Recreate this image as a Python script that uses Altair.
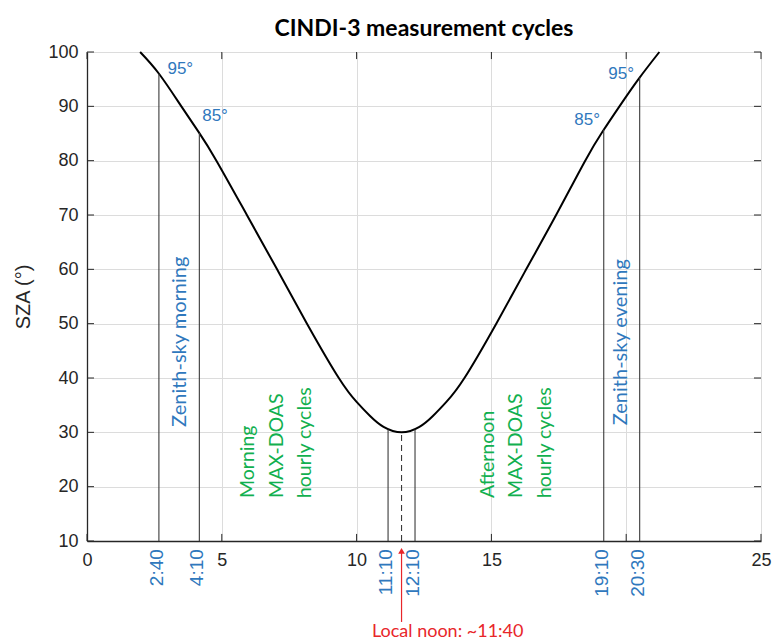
import altair as alt
import pandas as pd

# ---- data ----
curve_hours = [1.97, 2.67, 3.50, 4.15, 4.80, 5.93, 7.05, 8.16, 9.34, 10.0, 10.5,
               11.0, 11.67, 12.33, 12.83, 13.33, 14.0, 15.18, 16.29, 17.40, 18.48,
               19.13, 19.75, 20.47, 21.23]
curve_sza = [100, 96.0, 90, 85.2, 80, 70, 60, 50, 40, 35.6, 33.0,
             31.0, 30.0, 31.0, 33.0, 35.6, 40, 50, 60, 70, 80,
             85.4, 90, 95.1, 100]

cycle_hours = [2.667, 4.167, 11.167, 12.167, 19.167, 20.5]
cycle_labels = ["2:40", "4:10", "11:10", "12:10", "19:10", "20:30"]
cycle_tops = [96.0, 85.1, 30.5, 30.5, 85.7, 95.3]

noon_hour = 11.667
noon_sza = 30.0
noon_label = "Local noon: ~11:40"

sza_marks = ["95°", "85°", "85°", "95°"]
sza_mark_hours = [3.46, 4.75, 18.55, 19.81]
sza_mark_pos = [96.8, 88.3, 87.4, 96.0]

zenith_texts = ["Zenith-sky morning", "Zenith-sky evening"]
zenith_hours = [3.46, 19.81]
zenith_start = [31.0, 31.3]

maxdoas_texts = ["Morning", "MAX-DOAS", "hourly cycles",
                 "Afternoon", "MAX-DOAS", "hourly cycles"]
maxdoas_hours = [5.99, 7.04, 8.09, 14.87, 15.93, 16.97]
maxdoas_start = [17.9] * 6

x_ticks = [0, 5, 10, 15, 20, 25]
y_ticks = [10, 20, 30, 40, 50, 60, 70, 80, 90, 100]

BLUE = "#2f78bd"
GREEN = "#12b04f"
RED = "#e8262a"
DARK = "#262626"

xs = alt.Scale(domain=[0, 25], nice=False, zero=False)
ys = alt.Scale(domain=[10, 100], nice=False, zero=False)

AX_X = alt.Axis(values=x_ticks, labelExpr="datum.value == 20 ? '' : datum.label",
                grid=True, ticks=False, labelFontSize=18, labelFont="Liberation Sans",
                labelColor=DARK, labelPadding=10, domainColor=DARK, domainWidth=1.3,
                gridColor="#dcdcdc", labelFlush=False, title=None)
AX_Y = alt.Axis(values=y_ticks, grid=True, ticks=False, labelFontSize=18,
                labelFont="Liberation Sans", labelColor=DARK, labelPadding=9,
                domainColor=DARK, domainWidth=1.3, gridColor="#dcdcdc",
                title="SZA (°)", titleFont="Liberation Sans", titleFontSize=20,
                titleFontWeight="normal", titleColor=DARK, titleX=-64, titleY=244.5,
                titleAngle=-90, titleBaseline="middle", titleAlign="center",
                labelFlush=False)


def X(field):
    return alt.X(field, scale=xs, axis=AX_X, title=None)


def Y(field):
    return alt.Y(field, scale=ys, axis=AX_Y, title="SZA (°)")


def XD(v):
    return alt.XDatum(v, scale=xs, axis=AX_X, title=None, type="quantitative")


def YD(v):
    return alt.YDatum(v, scale=ys, axis=AX_Y, title="SZA (°)", type="quantitative")


# ---- layers ----
curve_df = pd.DataFrame({"t": curve_hours, "sza": curve_sza})
curve = alt.Chart(curve_df).mark_line(color="black", strokeWidth=2,
                                      interpolate="natural").encode(
    x=X("t:Q"), y=Y("sza:Q"))

# inward ticks (MATLAB style)
yt_df = pd.DataFrame({"v": y_ticks})
left_ticks = alt.Chart(yt_df).mark_rule(color=DARK, strokeWidth=1).encode(
    y=Y("v:Q"), x=XD(0), x2=alt.datum(0.26))
right_ticks = alt.Chart(yt_df).mark_rule(color=DARK, strokeWidth=1).encode(
    y=Y("v:Q"), x=XD(25), x2=alt.datum(24.74))
xt_df = pd.DataFrame({"v": x_ticks})
bottom_ticks = alt.Chart(xt_df).mark_rule(color=DARK, strokeWidth=1).encode(
    x=X("v:Q"), y=YD(10), y2=alt.datum(11.3))
top_ticks = alt.Chart(xt_df).mark_rule(color=DARK, strokeWidth=1).encode(
    x=X("v:Q"), y=YD(100), y2=alt.datum(98.7))

cyc_df = pd.DataFrame({"t": cycle_hours, "top": cycle_tops, "lab": cycle_labels,
                       "base": [10] * len(cycle_hours)})
cycle_lines = alt.Chart(cyc_df).mark_rule(color="#3a3a3a", strokeWidth=1.1).encode(
    x=X("t:Q"), y=Y("base:Q"), y2="top:Q")
cycle_text = alt.Chart(cyc_df).mark_text(
    angle=270, align="right", baseline="middle", color=BLUE, fontSize=19,
    font="Liberation Sans", dy=-2).encode(
    x=X("t:Q"), y=YD(8.5), text="lab:N")

noon_df = pd.DataFrame({"t": [noon_hour], "top": [noon_sza], "base": [10],
                        "lab": [noon_label]})
noon_line = alt.Chart(noon_df).mark_rule(color="#3a3a3a", strokeWidth=1.1,
                                         strokeDash=[6, 4]).encode(
    x=X("t:Q"), y=Y("base:Q"), y2="top:Q")
arrow_line = alt.Chart(noon_df).mark_rule(color=RED, strokeWidth=1.2).encode(
    x=X("t:Q"), y=YD(-4.9), y2=alt.datum(8.0))
arrow_head = alt.Chart(noon_df).mark_point(shape="triangle-up", filled=True, color=RED,
                                            size=45, opacity=1).encode(
    x=X("t:Q"), y=YD(8.2))
noon_text = alt.Chart(noon_df).mark_text(align="left", baseline="middle", color=RED,
                                         fontSize=18, font="Lato").encode(
    x=XD(10.57), y=YD(-6.7), text="lab:N")

sm_df = pd.DataFrame({"t": sza_mark_hours, "y": sza_mark_pos, "lab": sza_marks})
sza_text = alt.Chart(sm_df).mark_text(align="center", baseline="middle", color=BLUE,
                                      fontSize=17, font="Liberation Sans").encode(
    x=X("t:Q"), y=Y("y:Q"), text="lab:N")

zen_df = pd.DataFrame({"t": zenith_hours, "y": zenith_start, "lab": zenith_texts})
zen_text = alt.Chart(zen_df).mark_text(angle=270, align="left", baseline="middle",
                                       color=BLUE, fontSize=20, font="Lato").encode(
    x=X("t:Q"), y=Y("y:Q"), text="lab:N")

md_df = pd.DataFrame({"t": maxdoas_hours, "y": maxdoas_start, "lab": maxdoas_texts})
md_text = alt.Chart(md_df).mark_text(angle=270, align="left", baseline="middle",
                                     color=GREEN, fontSize=19.5, font="Lato").encode(
    x=X("t:Q"), y=Y("y:Q"), text="lab:N")

chart = alt.layer(
    curve, left_ticks, right_ticks, bottom_ticks, top_ticks,
    cycle_lines, noon_line, cycle_text, arrow_line, arrow_head, noon_text,
    sza_text, zen_text, md_text,
).properties(
    width=674, height=489,
    padding={"left": 87, "top": 52, "right": 12, "bottom": 101},
    autosize=alt.AutoSizeParams(type="none"),
    title=alt.TitleParams("CINDI-3 measurement cycles", font="Lato", fontSize=23,
                          fontWeight="bold", color="black", anchor="middle", offset=2),
).configure_view(stroke="black", strokeWidth=1.3).configure(background="white")

chart.save("out.html", embed_options={"renderer": "svg", "actions": False})
